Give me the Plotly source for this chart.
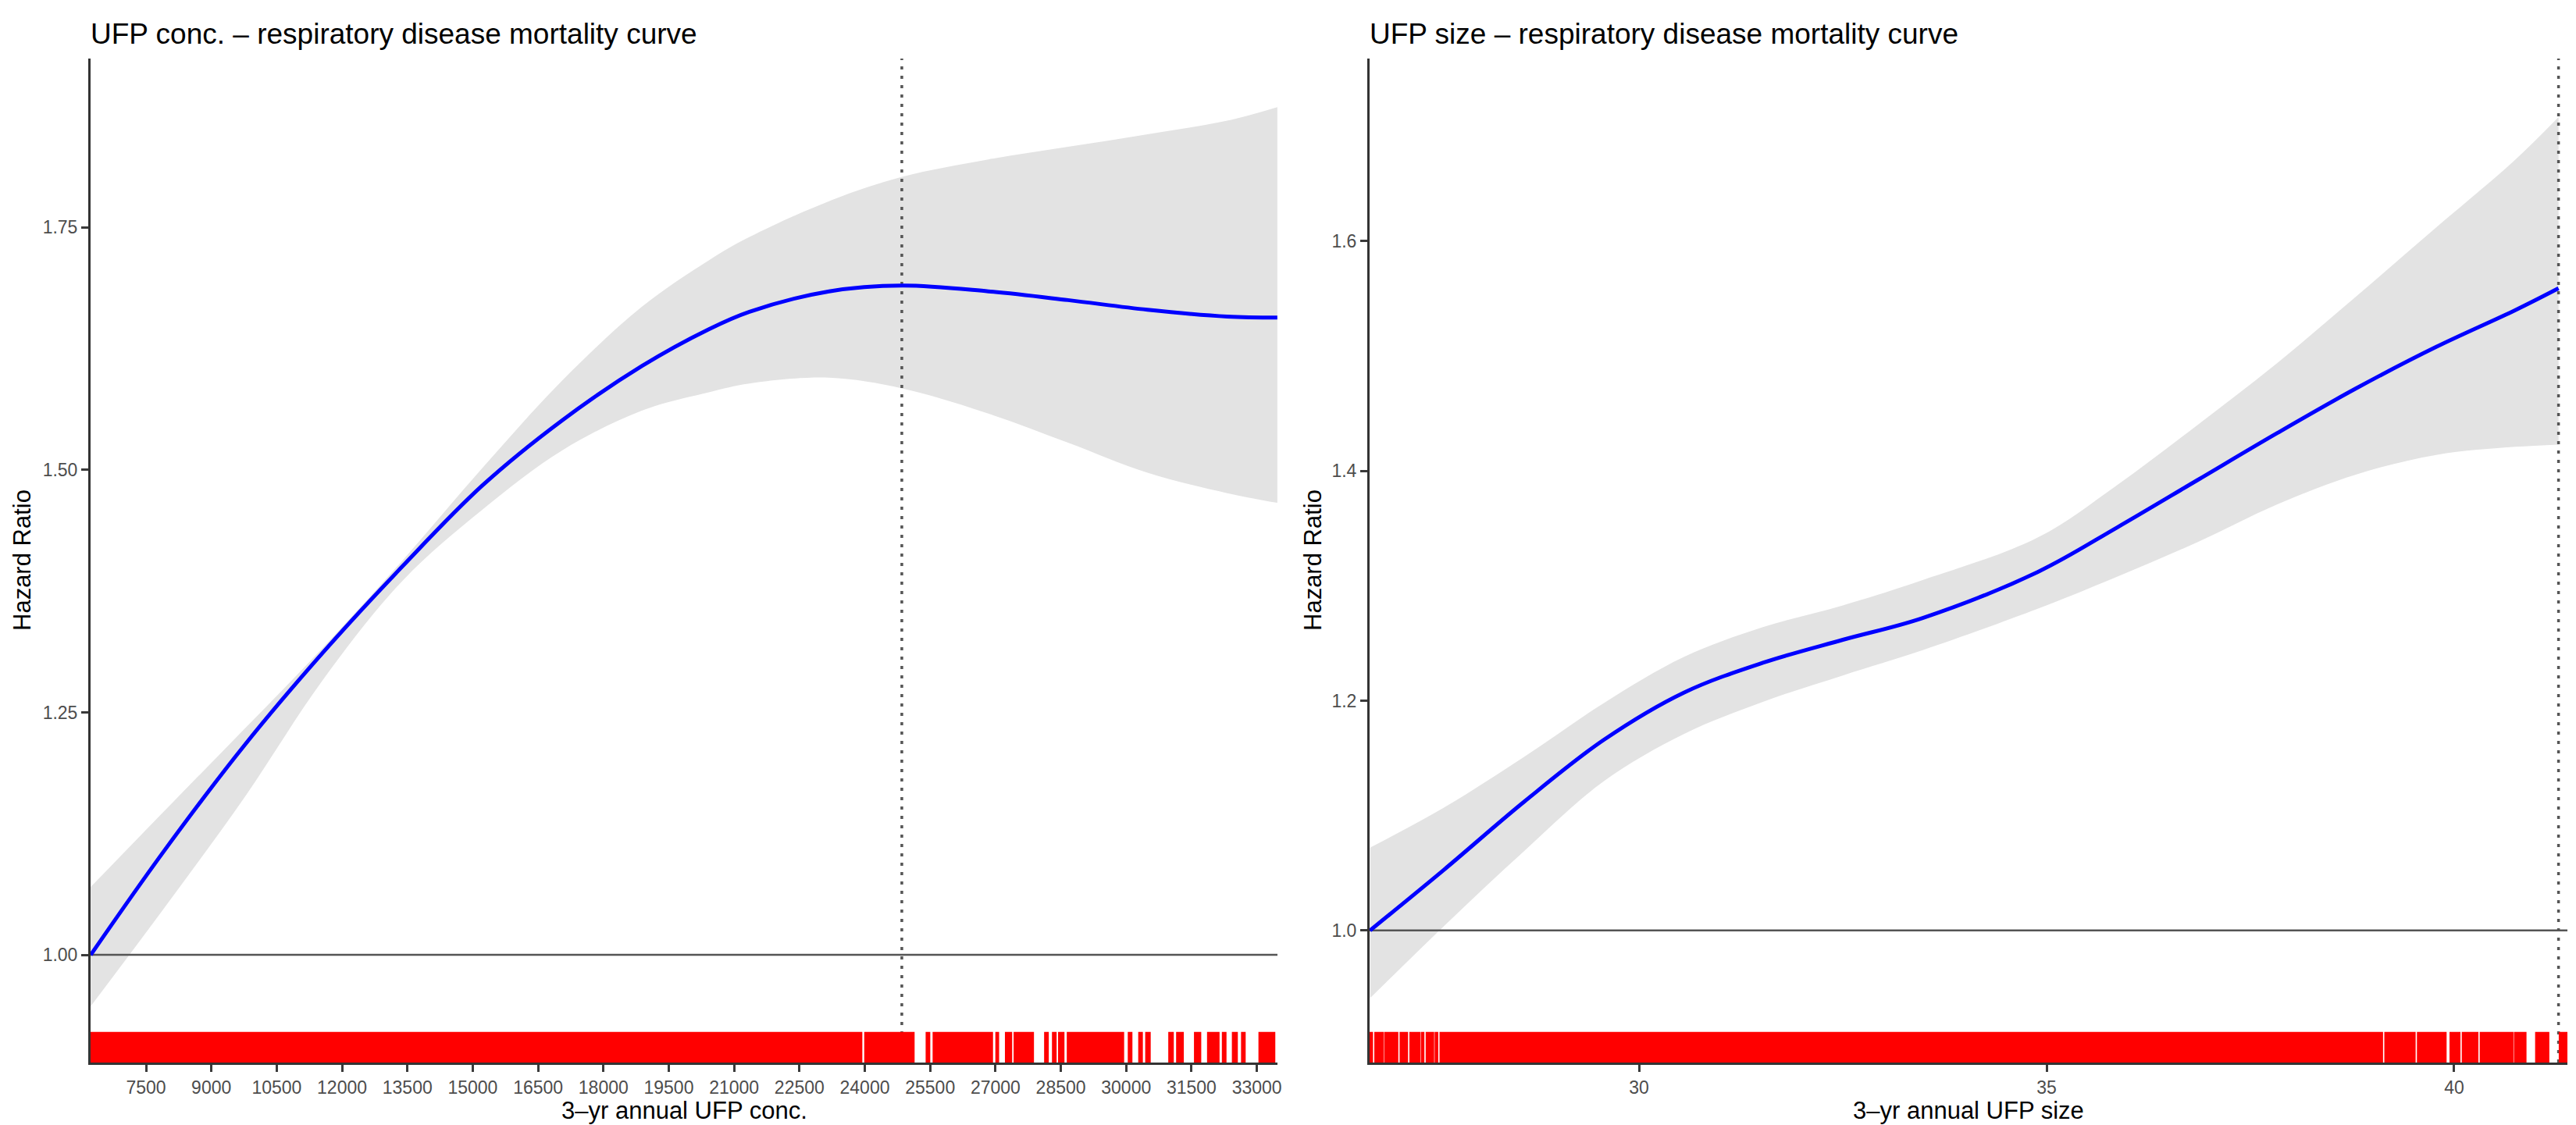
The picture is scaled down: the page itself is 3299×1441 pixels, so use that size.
import plotly.graph_objects as go

# ---- data ------------------------------------------------------------------
# left panel: UFP concentration
CONC_X = [6230, 7912, 9740, 11568, 13396, 15224, 17052, 18880, 20420, 21352,
          23180, 24854, 26836, 28664, 30491, 32320, 33470]
CONC_HR = [1.000, 1.107, 1.215, 1.312, 1.401, 1.484, 1.551, 1.607, 1.645, 1.663,
           1.684, 1.690, 1.684, 1.675, 1.665, 1.658, 1.657]
CONC_HI = [1.070, 1.148, 1.232, 1.317, 1.407, 1.502, 1.592, 1.668, 1.716, 1.740,
           1.777, 1.802, 1.820, 1.833, 1.846, 1.860, 1.874]
CONC_LO = [0.947, 1.048, 1.161, 1.284, 1.386, 1.459, 1.520, 1.561, 1.580, 1.589,
           1.595, 1.584, 1.558, 1.528, 1.497, 1.476, 1.466]
CONC_REF = 24850          # dotted reference line
CONC_RUG_START = [6230, 24000, 25410, 25570, 27010, 27230, 27430, 28130, 28310, 28450,
                  28650, 30050, 30290, 30450, 30980, 31160, 31570, 31870, 32210,
                  32440, 32650, 33050]
CONC_RUG_END = [23930, 25130, 25490, 26930, 27070, 27370, 27870, 28210, 28390, 28570,
                29940, 30130, 30370, 30550, 31080, 31310, 31710, 32130, 32290,
                32550, 32730, 33410]
CONC_TICKS = list(range(7500, 33001, 1500))

# right panel: UFP size
SIZE_X = [26.70, 27.61, 28.59, 29.57, 30.55, 31.52, 32.50, 33.48, 34.89,
          35.87, 36.85, 37.83, 38.80, 39.78, 40.75, 41.28]
SIZE_HR = [1.000, 1.053, 1.112, 1.166, 1.207, 1.233, 1.253, 1.272, 1.312,
           1.351, 1.392, 1.433, 1.472, 1.508, 1.540, 1.559]
SIZE_HI = [1.072, 1.107, 1.151, 1.198, 1.238, 1.264, 1.283, 1.305, 1.342,
           1.388, 1.440, 1.494, 1.552, 1.612, 1.671, 1.708]
SIZE_LO = [0.941, 1.004, 1.069, 1.130, 1.171, 1.199, 1.222, 1.244, 1.280,
           1.308, 1.338, 1.371, 1.397, 1.414, 1.421, 1.423]
SIZE_REF = 41.28
SIZE_RUG_START = [26.70, 26.76, 26.88, 27.07, 27.19, 27.33, 27.39, 27.50, 27.56, 39.15,
                  39.55, 39.95, 40.10, 40.32, 40.74, 41.00, 41.29]
SIZE_RUG_END = [26.73, 26.86, 27.04, 27.16, 27.31, 27.36, 27.48, 27.53, 39.12, 39.52,
                39.90, 40.07, 40.29, 40.72, 40.88, 41.16, 41.39]
SIZE_TICKS = [30, 35, 40]

# ---- layout geometry (pixels) ----------------------------------------------
W, H = 3299, 1441
ML, MR, MT, MB = 108, 19, 67, 88
PW, PH = W - ML - MR, H - MT - MB
FONT = "Liberation Sans, Arial, Helvetica, sans-serif"


def px(x):
    return (x - ML) / PW


def py(y):
    return (H - MB - y) / PH


fig = go.Figure()


def panel(xa, ya, X, HR, LO, HI, ref, rs, re, xr, yr):
    # confidence band: lower edge, then upper edge filled down to it
    fig.add_trace(go.Scatter(x=X, y=LO, mode="lines", line=dict(width=0, shape="spline"),
                             hoverinfo="skip", showlegend=False, xaxis=xa, yaxis=ya))
    fig.add_trace(go.Scatter(x=X, y=HI, mode="lines", fill="tonexty", fillcolor="#E3E3E3",
                             line=dict(width=0, shape="spline"),
                             hoverinfo="skip", showlegend=False, xaxis=xa, yaxis=ya))
    # HR = 1 line
    fig.add_trace(go.Scatter(x=[xr[0], xr[1]], y=[1, 1], mode="lines",
                             line=dict(color="#555555", width=2.5), hoverinfo="skip",
                             showlegend=False, xaxis=xa, yaxis=ya))
    # dotted reference
    fig.add_trace(go.Scatter(x=[ref, ref], y=[yr[0], yr[1]], mode="lines",
                             line=dict(color="#555555", width=3.5, dash="4px,8px"),
                             hoverinfo="skip", showlegend=False, xaxis=xa, yaxis=ya))
    # fitted curve
    fig.add_trace(go.Scatter(x=X, y=HR, mode="lines",
                             line=dict(color="#0000FF", width=5, shape="spline", smoothing=1),
                             showlegend=False, xaxis=xa, yaxis=ya))
    # rug (0.03 of the panel height)
    y0 = yr[0]
    y1 = yr[0] + 0.03 * (yr[1] - yr[0])
    rx, ry = [], []
    for a, b in zip(rs, re):
        rx += [a, b, b, a, a, None]
        ry += [y0, y0, y1, y1, y0, None]
    fig.add_trace(go.Scatter(x=rx, y=ry, mode="lines", fill="toself", fillcolor="#FF0000",
                             line=dict(width=1.5, color="#FF0000"), hoverinfo="skip",
                             showlegend=False, xaxis=xa, yaxis=ya))


L_XR, L_YR = [6227, 33473], [0.889, 1.924]
R_XR, R_YR = [26.695, 41.389], [0.885, 1.759]
panel("x", "y", CONC_X, CONC_HR, CONC_LO, CONC_HI, CONC_REF,
      CONC_RUG_START, CONC_RUG_END, L_XR, L_YR)
panel("x2", "y2", SIZE_X, SIZE_HR, SIZE_LO, SIZE_HI, SIZE_REF,
      SIZE_RUG_START, SIZE_RUG_END, R_XR, R_YR)

ax_common = dict(showgrid=False, zeroline=False, showline=True, linecolor="#333333",
                 linewidth=3, ticks="outside", ticklen=9, tickwidth=2.5, tickcolor="#3a3a3a",
                 tickfont=dict(family=FONT, size=23, color="#4d4d4d"), automargin=False)

fig.update_layout(
    width=W, height=H, margin=dict(l=ML, r=MR, t=MT, b=MB),
    paper_bgcolor="white", plot_bgcolor="white",
    xaxis=dict(ax_common, domain=[0, px(1628)], range=L_XR, tickvals=CONC_TICKS,
               ticktext=[str(t) for t in CONC_TICKS], anchor="y"),
    yaxis=dict(ax_common, domain=[0, 1], range=L_YR, tickvals=[1.00, 1.25, 1.50, 1.75],
               ticktext=["1.00", "1.25", "1.50", "1.75"], anchor="x"),
    xaxis2=dict(ax_common, domain=[px(1746), 1], range=R_XR, tickvals=SIZE_TICKS,
                ticktext=[str(t) for t in SIZE_TICKS], anchor="y2"),
    yaxis2=dict(ax_common, domain=[0, 1], range=R_YR, tickvals=[1.0, 1.2, 1.4, 1.6],
                ticktext=["1.0", "1.2", "1.4", "1.6"], anchor="x2"),
)

ann = []
for x0, txt in [(108, "UFP conc. – respiratory disease mortality curve"),
                (1746, "UFP size – respiratory disease mortality curve")]:
    ann.append(dict(x=px(x0 - 2), y=py(35), xref="paper", yref="paper", text=txt,
                    showarrow=False, xanchor="left", yanchor="middle",
                    font=dict(family=FONT, size=37, color="black")))
for xc, txt in [((108 + 1628) / 2, "3–yr annual UFP conc."),
                ((1746 + 3280) / 2, "3–yr annual UFP size")]:
    ann.append(dict(x=px(xc), y=py(1414), xref="paper", yref="paper", text=txt,
                    showarrow=False, xanchor="center", yanchor="middle",
                    font=dict(family=FONT, size=31, color="black")))
for xc in [20, 1673]:
    ann.append(dict(x=px(xc), y=py(710), xref="paper", yref="paper", text="Hazard Ratio",
                    showarrow=False, xanchor="center", yanchor="middle", textangle=-90,
                    font=dict(family=FONT, size=31, color="black")))
fig.update_layout(annotations=ann)

fig.write_html("out.html")
